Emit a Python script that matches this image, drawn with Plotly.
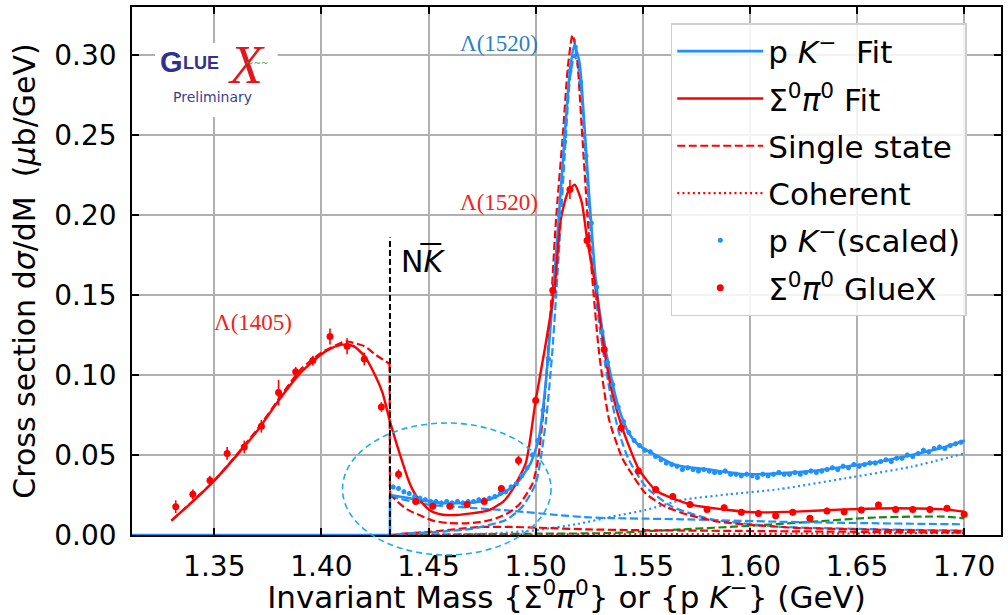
import plotly.graph_objects as go

# ---------------- data ----------------
NK_THRESHOLD = 1.432  # m_p + m_K (GeV)

# Sigma0 pi0 (GlueX) measured points
SP_X = [1.332, 1.340, 1.348, 1.356, 1.364, 1.372, 1.380, 1.388, 1.396, 1.404,
        1.412, 1.420, 1.428, 1.436, 1.444, 1.452, 1.460, 1.468, 1.476, 1.484,
        1.492, 1.500, 1.508, 1.516, 1.524, 1.532, 1.540, 1.548, 1.556, 1.564,
        1.572, 1.580, 1.588, 1.596, 1.604, 1.612, 1.620, 1.628, 1.636, 1.644,
        1.652, 1.660, 1.668, 1.676, 1.684, 1.692, 1.700]
SP_Y = [0.0177, 0.0254, 0.034, 0.051, 0.055, 0.068, 0.089, 0.102, 0.109, 0.124,
        0.118, 0.110, 0.080, 0.038, 0.021, 0.018, 0.018, 0.019, 0.021, 0.029,
        0.0465, 0.084, 0.153, 0.216, 0.184, 0.116, 0.067, 0.040, 0.0285, 0.024,
        0.019, 0.016, 0.017, 0.0142, 0.0135, 0.012, 0.0142, 0.0104, 0.015, 0.0146,
        0.0156, 0.0188, 0.016, 0.016, 0.016, 0.0167, 0.013]
SP_ERR = [0.004, 0.003, 0.003, 0.004, 0.004, 0.004, 0.008, 0.003, 0.003, 0.005,
          0.005, 0.004, 0.003, 0.003, 0.002, 0.002, 0.002, 0.002, 0.002, 0.002,
          0.003, 0.003, 0.004, 0.006, 0.004, 0.003, 0.003, 0.002, 0.002, 0.002,
          0.002, 0.002, 0.002, 0.002, 0.002, 0.002, 0.002, 0.002, 0.002, 0.002,
          0.002, 0.002, 0.002, 0.002, 0.002, 0.002, 0.002]

# p K- points (scaled)
PK_X = [1.4335, 1.4360, 1.4385, 1.4410, 1.4435, 1.4460, 1.4485, 1.4510, 1.4535, 1.4560,
        1.4585, 1.4610, 1.4635, 1.4660, 1.4685, 1.4710, 1.4735, 1.4760, 1.4785, 1.4810,
        1.4835, 1.4860, 1.4885, 1.4910, 1.4935, 1.4960, 1.4985, 1.5010, 1.5035, 1.5060,
        1.5085, 1.5110, 1.5135, 1.5160, 1.5185, 1.5210, 1.5235, 1.5260, 1.5285, 1.5310,
        1.5335, 1.5360, 1.5385, 1.5410, 1.5435, 1.5460, 1.5485, 1.5510, 1.5535, 1.5560,
        1.5585, 1.5610, 1.5635, 1.5660, 1.5685, 1.5710, 1.5735, 1.5760, 1.5785, 1.5810,
        1.5835, 1.5860, 1.5885, 1.5910, 1.5935, 1.5960, 1.5985, 1.6010, 1.6035, 1.6060,
        1.6085, 1.6110, 1.6135, 1.6160, 1.6185, 1.6210, 1.6235, 1.6260, 1.6285, 1.6310,
        1.6335, 1.6360, 1.6385, 1.6410, 1.6435, 1.6460, 1.6485, 1.6510, 1.6535, 1.6560,
        1.6585, 1.6610, 1.6635, 1.6660, 1.6685, 1.6710, 1.6735, 1.6760, 1.6785, 1.6810,
        1.6835, 1.6860, 1.6885, 1.6910, 1.6935, 1.6960, 1.6985]
PK_Y = [0.030, 0.029, 0.027, 0.026, 0.024, 0.023, 0.022, 0.021, 0.021, 0.020,
        0.021, 0.020, 0.021, 0.020, 0.021, 0.021, 0.022, 0.022, 0.023, 0.024,
        0.026, 0.027, 0.030, 0.032, 0.037, 0.042, 0.050, 0.059, 0.078, 0.110,
        0.152, 0.200, 0.246, 0.290, 0.305, 0.283, 0.237, 0.195, 0.155, 0.127,
        0.108, 0.094, 0.080, 0.071, 0.064, 0.059, 0.056, 0.053, 0.052, 0.049,
        0.047, 0.045, 0.044, 0.043, 0.041, 0.042, 0.041, 0.040, 0.041, 0.040,
        0.039, 0.039, 0.040, 0.038, 0.038, 0.037, 0.038, 0.037, 0.036, 0.038,
        0.037, 0.038, 0.039, 0.038, 0.038, 0.039, 0.038, 0.039, 0.040, 0.039,
        0.040, 0.041, 0.042, 0.041, 0.043, 0.042, 0.044, 0.043, 0.044, 0.045,
        0.045, 0.046, 0.047, 0.046, 0.048, 0.048, 0.050, 0.049, 0.051, 0.053,
        0.052, 0.054, 0.055, 0.054, 0.056, 0.057, 0.058]
PK_ERR = [0.0015] * 28 + [0.003, 0.004, 0.004, 0.005, 0.005, 0.005, 0.005, 0.005,
                          0.005, 0.004, 0.004, 0.003, 0.003, 0.003] + [0.0015] * 65

# p K- fit
PK_FIT_X = [1.4320, 1.4413, 1.4500, 1.4582, 1.4660, 1.4737, 1.4800, 1.4845, 1.4890,
            1.4923, 1.4977, 1.5016, 1.5047, 1.5078, 1.5110, 1.5133, 1.5160, 1.5181,
            1.5205, 1.5226, 1.5249, 1.5280, 1.5311, 1.5350, 1.5389, 1.5435, 1.5482,
            1.5560, 1.5653, 1.5823, 1.5979, 1.6134, 1.6289, 1.6444, 1.6600, 1.6755,
            1.6910, 1.7003]
PK_FIT_Y = [0.025, 0.023, 0.021, 0.0198, 0.020, 0.0208, 0.023, 0.026, 0.030,
            0.034, 0.045, 0.061, 0.095, 0.145, 0.202, 0.245, 0.290, 0.306,
            0.295, 0.259, 0.2135, 0.160, 0.128, 0.100, 0.079, 0.0636, 0.056,
            0.050, 0.0437, 0.0406, 0.038, 0.0385, 0.040, 0.0427, 0.0458, 0.050,
            0.055, 0.059]

# Sigma0 pi0 fit
SP_FIT_X = [1.330, 1.340, 1.350, 1.360, 1.370, 1.380, 1.390, 1.400, 1.405, 1.410,
            1.415, 1.420, 1.425, 1.4285, 1.432, 1.4365, 1.441, 1.444, 1.4504, 1.456,
            1.4628, 1.470, 1.4783, 1.485, 1.489, 1.4954, 1.500, 1.5045, 1.5089, 1.5117,
            1.5150, 1.5182, 1.5215, 1.5241, 1.528, 1.5319, 1.5357, 1.5404, 1.5482, 1.556,
            1.5637, 1.573, 1.590, 1.601, 1.6212, 1.6444, 1.6677, 1.691, 1.700]
SP_FIT_Y = [0.009, 0.021, 0.034, 0.049, 0.065, 0.084, 0.101, 0.113, 0.117, 0.119,
            0.118, 0.112, 0.100, 0.089, 0.071, 0.051, 0.033, 0.025, 0.0156, 0.0128,
            0.0125, 0.0135, 0.0156, 0.021, 0.028, 0.045, 0.084, 0.118, 0.155, 0.197,
            0.214, 0.219, 0.208, 0.184, 0.155, 0.117, 0.089, 0.067, 0.041, 0.028,
            0.023, 0.0188, 0.0156, 0.0142, 0.0146, 0.016, 0.0167, 0.016, 0.0146]

# Sigma0 pi0 single-state curve, below and above the N Kbar threshold
SP_SINGLE_LO_X = [1.330, 1.350, 1.370, 1.390, 1.400, 1.410, 1.4116, 1.420, 1.4255, 1.4318]
SP_SINGLE_LO_Y = [0.009, 0.034, 0.066, 0.103, 0.114, 0.1205, 0.121, 0.118, 0.1125, 0.107]
SP_SINGLE_HI_X = [1.4320, 1.4345, 1.440, 1.4457, 1.452, 1.4589, 1.4659, 1.474, 1.4815,
                  1.4875, 1.4923, 1.4985, 1.5011, 1.5042, 1.507, 1.5094, 1.5127, 1.5150,
                  1.5172, 1.5192, 1.5215, 1.5249, 1.5296, 1.5343, 1.5404, 1.5435, 1.5513,
                  1.5606, 1.5714, 1.5854, 1.601, 1.6212, 1.650, 1.700]
SP_SINGLE_HI_Y = [0.026, 0.022, 0.016, 0.0125, 0.009, 0.0075, 0.0073, 0.008, 0.0104,
                  0.014, 0.019, 0.032, 0.047, 0.085, 0.140, 0.195, 0.250, 0.292,
                  0.3125, 0.300, 0.255, 0.186, 0.114, 0.072, 0.048, 0.041, 0.026,
                  0.0177, 0.0125, 0.0083, 0.0063, 0.0045, 0.0035, 0.0025]

# Sigma0 pi0 threshold component
SP_LOW_X = [1.432, 1.440, 1.4506, 1.462, 1.474, 1.4908, 1.500, 1.525, 1.550, 1.600, 1.650, 1.700]
SP_LOW_Y = [0.0, 0.001, 0.002, 0.0035, 0.005, 0.005, 0.0046, 0.0035, 0.003, 0.0025, 0.002, 0.0015]

# Sigma0 pi0 coherent term
SP_COH_X = [1.432, 1.500, 1.600, 1.700]
SP_COH_Y = [0.0, 0.0003, 0.0007, 0.0012]

# p K- single state (Lambda(1520))
PK_SINGLE_X = [1.3116, 1.432, 1.440, 1.455, 1.4706, 1.4861, 1.4938, 1.500, 1.5047, 1.5078,
               1.511, 1.5133, 1.5160, 1.5181, 1.5205, 1.5226, 1.5249, 1.528, 1.5311, 1.535,
               1.5389, 1.5435, 1.5515, 1.5637, 1.5823, 1.6134, 1.650, 1.700]
PK_SINGLE_Y = [0.0, 0.0, 0.001, 0.002, 0.004, 0.0094, 0.0177, 0.032, 0.070, 0.115,
               0.180, 0.232, 0.285, 0.300, 0.288, 0.250, 0.205, 0.150, 0.118, 0.087,
               0.064, 0.047, 0.030, 0.0177, 0.0098, 0.0052, 0.0038, 0.0027]

# p K- non-resonant component
PK_BKG_X = [1.432, 1.450, 1.470, 1.490, 1.510, 1.525, 1.5342, 1.5683, 1.6134, 1.660, 1.700]
PK_BKG_Y = [0.024, 0.019, 0.017, 0.015, 0.0125, 0.011, 0.0106, 0.0098, 0.0083, 0.0073, 0.0067]

# p K- coherent term
PK_COH_X = [1.440, 1.480, 1.500, 1.520, 1.5357, 1.5513, 1.5683, 1.590, 1.6134, 1.6444, 1.6755, 1.7003]
PK_COH_Y = [0.0, 0.001, 0.003, 0.007, 0.0115, 0.0156, 0.0219, 0.0254, 0.0286, 0.0354, 0.0427, 0.051]

# additional component (green)
EXTRA_X = [1.3116, 1.432, 1.460, 1.500, 1.5342, 1.5683, 1.598, 1.629, 1.660, 1.691, 1.700]
EXTRA_Y = [0.0, 0.0, 0.0003, 0.0008, 0.0012, 0.0035, 0.0056, 0.0083, 0.011, 0.0115, 0.0104]

X_TICKS = [1.35, 1.40, 1.45, 1.50, 1.55, 1.60, 1.65, 1.70]
Y_TICKS = [0.00, 0.05, 0.10, 0.15, 0.20, 0.25, 0.30]

# ---------------- styling ----------------
BLUE = "#1e90ff"
RED = "#ff0000"
GREEN = "#138a13"
DASH = "8px,3.5px"
DOT = "2px,3.2px"
FONT = "DejaVu Sans"

# plot-area geometry in pixels (used for paper-referenced decorations)
L, R, T, B = 132, 5, 7, 80
W, H = 1008, 615
PW, PH = W - L - R, H - T - B


def px_x(px):
    return (px - L) / PW


def px_y(py):
    return (H - B - py) / PH


fig = go.Figure()


def curve(x, y, color, dash="solid", width=2.2, name=None, rank=None, shape="spline"):
    fig.add_trace(go.Scatter(
        x=x, y=y, mode="lines",
        line=dict(color=color, width=width, dash=dash, shape=shape, smoothing=0.6),
        name=name or "", showlegend=name is not None,
        legendgroup=name or None,
        legendrank=rank if rank is not None else 1000,
        hoverinfo="skip",
    ))


# background / component curves
curve(EXTRA_X, EXTRA_Y, GREEN, DASH)
curve(PK_COH_X, PK_COH_Y, BLUE, DOT)
curve(PK_BKG_X, PK_BKG_Y, BLUE, DASH)
curve(SP_COH_X, SP_COH_Y, RED, DOT, name="Coherent", rank=4)
curve(SP_LOW_X, SP_LOW_Y, RED, DASH)
curve(PK_SINGLE_X, PK_SINGLE_Y, BLUE, DASH)
curve(SP_SINGLE_LO_X, SP_SINGLE_LO_Y, RED, DASH, name="Single state", rank=3)
curve([SP_SINGLE_LO_X[-1], SP_SINGLE_HI_X[0]], [SP_SINGLE_LO_Y[-1], SP_SINGLE_HI_Y[0]],
      RED, DASH, shape="linear")
curve(SP_SINGLE_HI_X, SP_SINGLE_HI_Y, RED, DASH)

# fits
curve([1.3116, NK_THRESHOLD, PK_FIT_X[0]], [0.0, 0.0, PK_FIT_Y[0]], BLUE, width=2.6, shape="linear")
curve(PK_FIT_X, PK_FIT_Y, BLUE, width=2.6, name="p <i>K</i><sup>\u2212</sup>  Fit", rank=1)
curve(SP_FIT_X, SP_FIT_Y, RED, width=2.4,
      name="\u03a3<sup>0</sup><i>\u03c0</i><sup>0</sup> Fit", rank=2)

# threshold marker
fig.add_trace(go.Scatter(
    x=[NK_THRESHOLD, NK_THRESHOLD], y=[0, 0.186], mode="lines",
    line=dict(color="black", width=2, dash="6px,3px"), showlegend=False, hoverinfo="skip"))

# data points
fig.add_trace(go.Scatter(
    x=PK_X, y=PK_Y, mode="markers",
    marker=dict(color=BLUE, size=5),
    error_y=dict(type="data", array=PK_ERR, color=BLUE, thickness=1.3, width=0),
    name="p <i>K</i><sup>\u2212</sup>(scaled)", legendgroup="pk_data",
    legendrank=5, hoverinfo="skip"))
fig.add_trace(go.Scatter(
    x=SP_X, y=SP_Y, mode="markers",
    marker=dict(color=RED, size=7),
    error_y=dict(type="data", array=SP_ERR, color=RED, thickness=1.6, width=0),
    name="\u03a3<sup>0</sup><i>\u03c0</i><sup>0</sup> GlueX", legendgroup="sp_data",
    legendrank=6, hoverinfo="skip"))

# ---------------- annotations ----------------
ann = []
ann.append(dict(x=1.3679, y=0.133, xref="x", yref="y", text="\u039b(1405)", showarrow=False,
                font=dict(family="Liberation Serif", size=23, color="#f42020")))
ann.append(dict(x=1.483, y=0.307, xref="x", yref="y", text="\u039b(1520)", showarrow=False,
                font=dict(family="Liberation Serif", size=23, color="#2d7fc0")))
ann.append(dict(x=1.483, y=0.208, xref="x", yref="y", text="\u039b(1520)", showarrow=False,
                font=dict(family="Liberation Serif", size=23, color="#f42020")))
ann.append(dict(x=1.4362, y=0.171, xref="x", yref="y", text="N<i>K</i>", showarrow=False,
                xanchor="left", yanchor="middle", font=dict(family=FONT, size=30, color="black")))


def badge_text(px, py, text, size, color, family="Liberation Sans"):
    ann.append(dict(x=px_x(px), y=px_y(py), xref="paper", yref="paper", text=text,
                    xanchor="center", yanchor="middle", showarrow=False,
                    font=dict(family=family, size=size, color=color)))


# GlueX badge
NAVY = "#2e3192"
badge_text(172, 62, "<b>G</b>", 29, NAVY)
badge_text(201, 63, "<b>LUE</b>", 18, NAVY)
badge_text(247, 65, "<i>X</i>", 54, "#e3161b", "Liberation Serif")
badge_text(258, 63, "~~~", 9, "#3a9a3a", FONT)
badge_text(213, 97, "Preliminary", 14, "#3b3f91", FONT)

shapes = [
    # white panel behind the badge
    dict(type="rect", xref="paper", yref="paper", x0=px_x(155), x1=px_x(278),
         y0=px_y(117), y1=px_y(43), fillcolor="white", line=dict(width=0), layer="above"),
    # bar over K
    dict(type="line", xref="paper", yref="paper", x0=px_x(421), x1=px_x(442),
         y0=px_y(244), y1=px_y(244), line=dict(color="black", width=2)),
    # highlight ellipse around the threshold region
    dict(type="circle", xref="paper", yref="paper", x0=px_x(343), x1=px_x(552),
         y0=px_y(555), y1=px_y(423), line=dict(color="#1aaeea", width=1.6, dash="6px,4px"),
         layer="above"),
]

axis_common = dict(
    showline=True, linecolor="black", linewidth=1.6, mirror="ticks",
    ticks="inside", ticklen=7, tickwidth=1.6, tickcolor="black",
    showgrid=True, gridcolor="#b0b0b0", gridwidth=1.5, zeroline=False,
    tickfont=dict(family=FONT, size=28, color="black"),
)

fig.update_layout(
    width=W, height=H,
    margin=dict(l=L, r=R, t=T, b=B),
    paper_bgcolor="white", plot_bgcolor="white",
    xaxis=dict(
        range=[1.3116, 1.7172], tickvals=X_TICKS, ticktext=[f"{v:.2f}" for v in X_TICKS],
        ticklabelstandoff=6,
        title=dict(text="Invariant Mass {\u03a3<sup>0</sup><i>\u03c0</i><sup>0</sup>} or {p <i>K</i><sup>\u2212</sup>} (GeV)",
                   font=dict(family=FONT, size=31, color="black"), standoff=5),
        **axis_common),
    yaxis=dict(
        range=[0, 0.33], tickvals=Y_TICKS, ticktext=[f"{v:.2f}" for v in Y_TICKS],
        ticklabelstandoff=8,
        title=dict(text="Cross section d<i>\u03c3</i>/dM  (<i>\u03bc</i>b/GeV)",
                   font=dict(family=FONT, size=30, color="black"), standoff=10),
        **axis_common),
    legend=dict(
        x=px_x(672), y=px_y(23), xanchor="left", yanchor="top",
        bgcolor="rgba(255,255,255,0.85)", bordercolor="#cfcfcf", borderwidth=1.5,
        font=dict(family=FONT, size=31, color="black"),
        tracegroupgap=4, itemwidth=86,
    ),
    annotations=ann,
    shapes=shapes,
    showlegend=True,
)

fig.write_html("out.html")
